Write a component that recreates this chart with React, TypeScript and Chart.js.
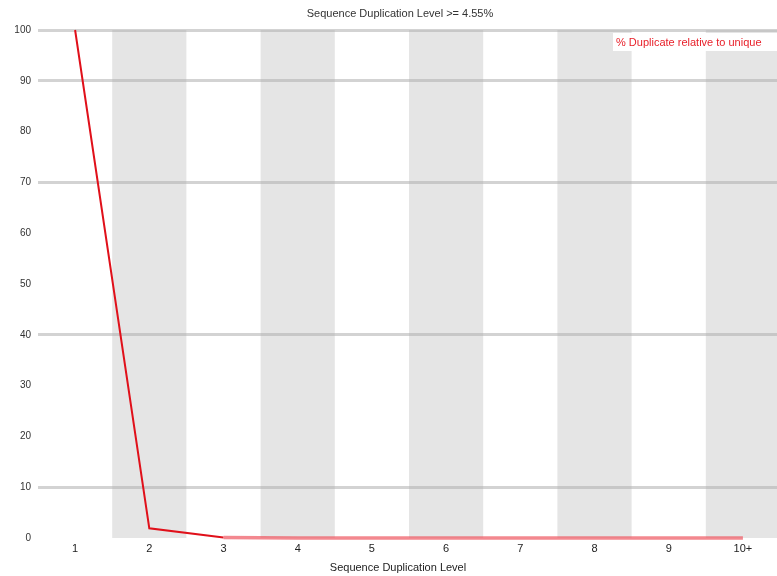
import React, { useEffect, useRef } from "react";
import { Chart, registerables } from "chart.js";

Chart.register(...registerables);

const categories = ["1", "2", "3", "4", "5", "6", "7", "8", "9", "10+"];
const duplicateRelative = [100, 1.9, 0.1, 0, 0, 0, 0, 0, 0, 0];
const yTicks = [0, 10, 20, 30, 40, 50, 60, 70, 80, 90, 100];
const visibleGridValues = [100, 90, 70, 40, 10];
const titleText = "Sequence Duplication Level >= 4.55%";
const legendText = "% Duplicate relative to unique";
const xAxisTitle = "Sequence Duplication Level";

const FONT = "'Liberation Sans', Arial, sans-serif";

const bandsPlugin = {
  id: "bands",
  beforeDraw(chart: any) {
    const { ctx, chartArea, scales } = chart;
    const x = scales.x;
    ctx.save();
    ctx.fillStyle = "#ffffff";
    ctx.fillRect(0, 0, chart.width, chart.height);
    ctx.fillStyle = "#e5e5e5";
    const n = categories.length;
    const w = (chartArea.right - chartArea.left) / n;
    for (let i = 0; i < n; i++) {
      if (i % 2 === 1) {
        const cx = x.getPixelForValue(i);
        ctx.fillRect(cx - w / 2, chartArea.top, w, chartArea.bottom - chartArea.top);
      }
    }
    ctx.restore();
  },
  afterDraw(chart: any) {
    const { ctx } = chart;
    ctx.save();
    ctx.font = `11px ${FONT}`;
    ctx.fillStyle = "#333333";
    ctx.textAlign = "center";
    ctx.textBaseline = "middle";
    ctx.fillText(titleText, 400, 14);
    ctx.fillStyle = "#222222";
    ctx.fillText(xAxisTitle, 398, 568);
    ctx.fillStyle = "#ffffff";
    ctx.fillRect(613, 33, 170, 18);
    ctx.fillStyle = "#e8202a";
    ctx.textAlign = "left";
    ctx.fillText(legendText, 616, 43);
    ctx.restore();
  },
};

export default function App() {
  const ref = useRef<HTMLCanvasElement | null>(null);
  useEffect(() => {
    if (!ref.current) return;
    const chart = new Chart(ref.current, {
      type: "line",
      data: {
        labels: categories,
        datasets: [
          {
            label: legendText,
            data: duplicateRelative,
            borderColor: "#e0101a",
            borderWidth: 2,
            pointRadius: 0,
            tension: 0,
            fill: false,
            clip: false as any,
            segment: {
              borderColor: (c: any) =>
                c.p0.parsed.y < 1 ? "rgba(238,90,100,0.72)" : "#e0101a",
              borderWidth: (c: any) => (c.p0.parsed.y < 1 ? 3.5 : 2),
            },
          },
        ],
      },
      options: {
        animation: false,
        responsive: false,
        layout: { padding: { top: 30, right: 0, left: 0, bottom: 0 } },
        plugins: {
          legend: { display: false },
          title: { display: false },
          tooltip: { enabled: false },
        },
        scales: {
          x: {
            type: "category",
            offset: true,
            grid: { display: false, drawTicks: false },
            border: { display: false },
            ticks: {
              color: "#222",
              font: { family: FONT, size: 11 },
              padding: 4,
              maxRotation: 0,
              autoSkip: false,
            },
            title: { display: false },
            afterFit: (s: any) => {
              s.height = 38;
            },
          },
          y: {
            min: 0,
            max: 100,
            afterBuildTicks: (s: any) => {
              s.ticks = yTicks.map((v) => ({ value: v }));
            },
            grid: {
              drawTicks: false,
              lineWidth: 3,
              color: (c: any) =>
                visibleGridValues.includes(c.tick?.value) ? "rgba(175,175,175,0.55)" : "rgba(0,0,0,0)",
            },
            border: { display: false },
            ticks: {
              color: "#333",
              font: { family: FONT, size: 10 },
              padding: 7,
            },
            afterFit: (s: any) => {
              s.width = 38;
            },
          },
        },
      },
      plugins: [bandsPlugin],
    });
    return () => chart.destroy();
  }, []);
  return (
    <div
      style={{
        position: "fixed",
        left: 0,
        top: 0,
        width: 777,
        height: 576,
        overflow: "hidden",
        background: "#fff",
      }}
    >
      <canvas ref={ref} width={780} height={576} style={{ width: 780, height: 576, display: "block" }} />
    </div>
  );
}
